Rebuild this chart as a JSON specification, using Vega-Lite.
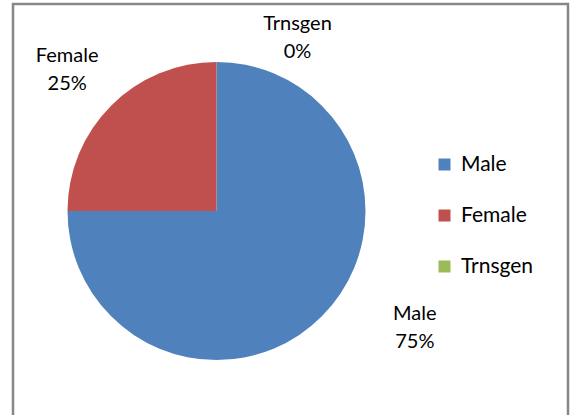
{
  "$schema": "https://vega.github.io/schema/vega-lite/v6.json",
  "width": 555,
  "height": 413,
  "autosize": "none",
  "padding": {"left": 13, "top": 4, "right": 9, "bottom": -2},
  "background": "white",
  "view": {"stroke": "#878787", "strokeWidth": 2.5},
  "config": {
    "view": {"stroke": "#878787", "strokeWidth": 2.5},
    "text": {"font": "Lato"}
  },
  "data": {
    "values": [
      {"gender": "Male", "share": 75, "rank": 1, "pct": "75%"},
      {"gender": "Female", "share": 25, "rank": 2, "pct": "25%"},
      {"gender": "Trnsgen", "share": 0, "rank": 3, "pct": "0%"}
    ]
  },
  "transform": [{"calculate": "datum.gender + '|' + datum.pct", "as": "lbl"}],
  "encoding": {
    "theta": {"field": "share", "type": "quantitative", "stack": true},
    "order": {"field": "rank", "type": "quantitative"}
  },
  "layer": [
    {
      "mark": {"type": "arc", "outerRadius": 149, "xOffset": -74, "yOffset": 0.5},
      "encoding": {
        "color": {
          "field": "gender",
          "type": "nominal",
          "scale": {"domain": ["Male", "Female", "Trnsgen"], "range": ["#4F81BD", "#C0504D", "#9BBB59"]},
          "legend": {
            "title": null,
            "orient": "none",
            "legendX": 421,
            "legendY": 150,
            "symbolType": "square",
            "symbolSize": 144,
            "symbolStrokeWidth": 0,
            "labelFontSize": 21,
            "labelFont": "Lato",
            "labelColor": "black",
            "rowPadding": 29,
            "labelOffset": 6,
            "padding": 0
          }
        }
      }
    },
    {
      "mark": {"type": "text", "radius": 190, "xOffset": -74, "yOffset": 0.5, "dx": 64, "dy": -31, "fontSize": 20, "lineBreak": "|", "lineHeight": 28, "color": "black"},
      "encoding": {"text": {"condition": {"test": "datum.gender === 'Male'", "field": "lbl"}, "value": ""}}
    },
    {
      "mark": {"type": "text", "radius": 190, "xOffset": -74, "yOffset": 0.5, "dx": -15, "dy": -21, "fontSize": 20, "lineBreak": "|", "lineHeight": 28, "color": "black"},
      "encoding": {"text": {"condition": {"test": "datum.gender === 'Female'", "field": "lbl"}, "value": ""}}
    },
    {
      "mark": {"type": "text", "radius": 190, "xOffset": -74, "yOffset": 0.5, "dx": 81, "dy": 3, "fontSize": 20, "lineBreak": "|", "lineHeight": 28, "color": "black"},
      "encoding": {"text": {"condition": {"test": "datum.gender === 'Trnsgen'", "field": "lbl"}, "value": ""}}
    }
  ]
}
